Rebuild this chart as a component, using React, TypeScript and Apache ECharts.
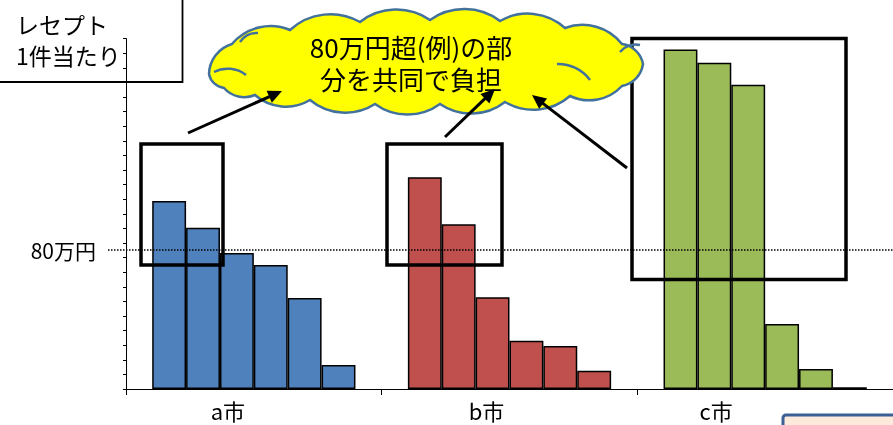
import React, { useEffect, useRef } from "react";
import * as echarts from "echarts";

// ---- data ----
const categories = ["a市", "b市", "c市"];
const aValues = [108.2, 92.8, 78.2, 71.3, 52.4, 13.8];
const bValues = [121.8, 94.8, 52.8, 27.8, 24.7, 10.5];
const cValues = [195.4, 187.7, 175.1, 37.4, 11.5, 1.0];
const cityValues = [aValues, bValues, cValues];
const cityColors = ["#4F81BD", "#C0504D", "#9BBB59"];
const threshold = 80;
const thresholdLabel = "80万円";
const yTickInterval = 8.4;
const yMax = 201.6;
const yTitleLines = ["レセプト", "1件当たり"];
const cloudLines = ["80万円超(例)の部", "分を共同で負担"];
const labelShift = [52, 46, 98];

const FONT = "'Noto Sans CJK JP', 'Noto Sans', sans-serif";

// cloud outline points (decoration)
const cloudPts: [number, number][] = [
  [209, 74], [232, 44], [290, 30], [360, 22], [430, 20], [500, 21], [565, 28],
  [622, 44], [643, 64], [622, 86], [570, 96], [505, 102], [440, 104], [375, 104],
  [310, 100], [255, 95], [224, 88],
];
function cloudPath() {
  let d = `M ${cloudPts[0][0]} ${cloudPts[0][1]}`;
  for (let i = 1; i <= cloudPts.length; i++) {
    const p = cloudPts[i % cloudPts.length];
    const q = cloudPts[i - 1];
    const chord = Math.hypot(p[0] - q[0], p[1] - q[1]);
    const r = chord * 0.85;
    d += ` A ${r.toFixed(2)} ${r.toFixed(2)} 0 0 1 ${p[0]} ${p[1]}`;
  }
  return d + " Z";
}
const cloudInnerD =
  "M 214 72 A 30 30 0 0 1 246 75 M 557 64 A 40 40 0 0 1 590 80 M 620 52 A 20 20 0 0 1 640 45 M 240 42 A 20 20 0 0 1 258 33";

echarts.graphic.registerShape("cloud", echarts.graphic.extendPath(cloudPath(), {}));
echarts.graphic.registerShape("cloudInner", echarts.graphic.extendPath(cloudInnerD, {}));

function arrow(sx: number, sy: number, ex: number, ey: number) {
  const len = Math.hypot(ex - sx, ey - sy);
  const dx = (ex - sx) / len;
  const dy = (ey - sy) / len;
  const nx = -dy;
  const ny = dx;
  const hl = 14;
  const hw = 6.5;
  return [
    {
      type: "line",
      z: 130,
      shape: { x1: sx, y1: sy, x2: ex - dx * 10, y2: ey - dy * 10 },
      style: { stroke: "#000", lineWidth: 3 },
    },
    {
      type: "polygon",
      z: 130,
      shape: {
        points: [
          [ex, ey],
          [ex - dx * hl + nx * hw, ey - dy * hl + ny * hw],
          [ex - dx * hl - nx * hw, ey - dy * hl - ny * hw],
        ],
      },
      style: { fill: "#000" },
    },
  ];
}

export default function App() {
  const ref = useRef<HTMLDivElement>(null);
  useEffect(() => {
    if (!ref.current) return;
    const chart = echarts.init(ref.current, null, { renderer: "svg" });
    const rich: any = {};
    categories.forEach((_, i) => {
      rich["c" + i] = {
        fontSize: 22,
        fontFamily: FONT,
        color: "#000",
        padding: [0, labelShift[i], 0, 0],
      };
    });
    const series = aValues.map((_, k) => ({
      type: "bar",
      barGap: "0%",
      barCategoryGap: "20.5%",
      data: cityValues.map((vals, ci) => ({
        value: vals[k],
        itemStyle: { color: cityColors[ci] },
      })),
      itemStyle: { borderColor: "#000", borderWidth: 1.5 },
    }));
    chart.setOption({
      animation: false,
      grid: { left: 126, top: 38.6, height: 350.4, width: 769.5, containLabel: false },
      xAxis: {
        type: "category",
        data: categories,
        axisLine: { lineStyle: { color: "#000", width: 1 } },
        axisTick: { show: true, length: 6, lineStyle: { color: "#000" } },
        axisLabel: {
          margin: 10,
          formatter: (v: string) => {
            const i = categories.indexOf(v);
            return `{c${i}|${v}}`;
          },
          rich,
        },
      },
      yAxis: {
        type: "value",
        min: 0,
        max: yMax,
        interval: yTickInterval,
        axisLine: { show: true, lineStyle: { color: "#000", width: 1 } },
        axisTick: { show: true, length: 3, lineStyle: { color: "#000" } },
        axisLabel: { show: false },
        splitLine: { show: false },
      },
      series,
    });
    const yPix = chart.convertToPixel({ yAxisIndex: 0 }, threshold) as number;
    const rects = [
      [141, 144, 82, 121],
      [387, 144, 115, 121],
      [632, 38.5, 214, 241],
    ];
    chart.setOption({
      graphic: [
        {
          type: "rect",
          z: 90,
          shape: { x: -10, y: -10, width: 192.5, height: 92 },
          style: { fill: "none", stroke: "#000", lineWidth: 1.8 },
        },
        {
          type: "text",
          z: 91,
          x: 16,
          y: 39,
          style: {
            text: yTitleLines.join("\n"),
            font: `23px ${FONT}`,
            lineHeight: 31,
            fill: "#000",
            verticalAlign: "middle",
          },
        },
        {
          type: "line",
          z: 95,
          shape: { x1: 108, y1: yPix, x2: 893, y2: yPix },
          style: { stroke: "#000", lineWidth: 1.5, lineDash: [1.5, 1.5] },
        },
        {
          type: "text",
          z: 95,
          x: 96,
          y: yPix,
          style: {
            text: thresholdLabel,
            font: `21px ${FONT}`,
            fill: "#000",
            align: "right",
            verticalAlign: "middle",
          },
        },
        ...rects.map((r) => ({
          type: "rect",
          z: 100,
          shape: { x: r[0], y: r[1], width: r[2], height: r[3] },
          style: { fill: "none", stroke: "#000", lineWidth: 3.5 },
        })),
        {
          type: "cloud",
          z: 120,
          x: 0,
          y: 0,
          style: { fill: "#FFFF00", stroke: "#41719C", lineWidth: 2.5 },
        },
        {
          type: "cloudInner",
          z: 121,
          x: 0,
          y: 0,
          style: { fill: "none", stroke: "#41719C", lineWidth: 2.5 },
        },
        ...cloudLines.map((t, i) => ({
          type: "text",
          z: 122,
          x: 411,
          y: 46 + i * 32.5,
          style: {
            text: t,
            font: `26px ${FONT}`,
            fill: "#000",
            align: "center",
            verticalAlign: "middle",
          },
        })),
        ...arrow(188, 133, 282, 91),
        ...arrow(445, 137, 495, 89),
        ...arrow(627, 168, 532, 95),
        {
          type: "rect",
          z: 100,
          shape: { x: 783, y: 415, width: 150, height: 40, r: 3 },
          style: { fill: "#FDEADA", stroke: "#3A6096", lineWidth: 3 },
        },
      ],
    });
    return () => chart.dispose();
  }, []);
  return (
    <div
      ref={ref}
      style={{ position: "fixed", left: 0, top: 0, width: 893, height: 425 }}
    />
  );
}
